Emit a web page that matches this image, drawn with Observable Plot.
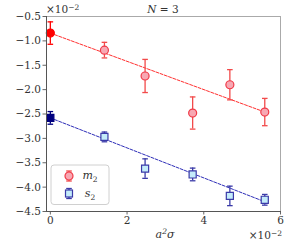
<!DOCTYPE html>
<html>
<head>
<meta charset="utf-8">
<script src="https://cdn.jsdelivr.net/npm/d3@7"></script>
<script src="https://cdn.jsdelivr.net/npm/@observablehq/plot@0.6"></script>
<style>
  body { margin: 0; background: #fff; }
  #chart { position: relative; width: 287px; height: 244px; }
  svg { font-family: "DejaVu Serif", "Liberation Serif", serif; }
</style>
</head>
<body>
<div id="chart"></div>
<script>
// Data (x in units of 10^-2, y in units of 10^-2)
const xs = [0, 1.41, 2.47, 3.71, 4.68, 5.59];
const m2 = [-0.84, -1.19, -1.72, -2.48, -1.90, -2.46];
const m2Err = [0.23, 0.16, 0.34, 0.33, 0.31, 0.28];
const s2 = [-2.58, -2.97, -3.62, -3.74, -4.18, -4.26];
const s2Err = [0.13, 0.10, 0.20, 0.13, 0.20, 0.11];
const fitX = [0, 5.59];
const fitM2 = [-0.84, -2.46];
const fitS2 = [-2.58, -4.30];
const xTicks = [0, 2, 4, 6];
const yTicks = [-0.5, -1.0, -1.5, -2.0, -2.5, -3.0, -3.5, -4.0, -4.5];

const m2Data = xs.map((x, i) => ({x, y: m2[i], e: m2Err[i], first: i === 0}));
const s2Data = xs.map((x, i) => ({x, y: s2[i], e: s2Err[i], first: i === 0}));
const fitM2Data = fitX.map((x, i) => ({x, y: fitM2[i]}));
const fitS2Data = fitX.map((x, i) => ({x, y: fitS2[i]}));

const capSymbol = {
  draw(ctx, size) {
    const w = Math.sqrt(size / Math.PI);
    ctx.moveTo(-w, 0);
    ctx.lineTo(w, 0);
  }
};

const RED = "#ff0000";
const RED_ERR = "#f24a4a";
const RED_FILL = "#f7a8b3";
const BLUE = "#00007f";
const BLUE_EDGE = "#3a3aa8";
const BLUE_FILL = "#c4ecfa";

const minus = (v) => (v < 0 ? "\u2212" : "") + Math.abs(v).toFixed(1);

function errMarks(data, color, firstColor) {
  return [
    Plot.ruleX(data, {x: "x", y1: d => d.y - d.e, y2: d => d.y + d.e, stroke: d => d.first ? firstColor : color, strokeWidth: 1.3}),
    Plot.dot(data, {x: "x", y: d => d.y - d.e, symbol: capSymbol, r: 2.8, stroke: d => d.first ? firstColor : color, strokeWidth: 1.3}),
    Plot.dot(data, {x: "x", y: d => d.y + d.e, symbol: capSymbol, r: 2.8, stroke: d => d.first ? firstColor : color, strokeWidth: 1.3})
  ];
}

const plot = Plot.plot({
  width: 287,
  height: 244,
  marginLeft: 46,
  marginRight: 7,
  marginTop: 16,
  marginBottom: 33,
  style: {fontFamily: "DejaVu Serif, serif", fontSize: "10.5px", background: "#fff"},
  x: {domain: [-0.1, 6], ticks: xTicks, tickFormat: d => String(d), tickSize: 3.5, label: null},
  y: {domain: [-4.5, -0.5], ticks: yTicks, tickFormat: minus, tickSize: 3.5, label: null},
  marks: [
    Plot.line(fitM2Data, {x: "x", y: "y", stroke: "#ff3030", strokeWidth: 1, strokeDasharray: "3,1.5"}),
    Plot.line(fitS2Data, {x: "x", y: "y", stroke: "#2e2eb8", strokeWidth: 1, strokeDasharray: "3,1.5"}),
    ...errMarks(m2Data, RED_ERR, RED),
    ...errMarks(s2Data, BLUE_EDGE, BLUE),
    Plot.dot(m2Data, {x: "x", y: "y", r: 4, fill: d => d.first ? RED : RED_FILL, stroke: d => d.first ? RED : "#f03a48", strokeWidth: 1.2}),
    Plot.dot(s2Data, {x: "x", y: "y", r: 4, symbol: "square", fill: d => d.first ? BLUE : BLUE_FILL, stroke: d => d.first ? BLUE : BLUE_EDGE, strokeWidth: 1.2}),
    Plot.axisX({ticks: xTicks, tickFormat: d => String(d), tickSize: 3.5, tickPadding: 2, stroke: "#666", fill: "#333"}),
    Plot.axisY({ticks: yTicks, tickFormat: minus, tickSize: 3.5, tickPadding: 2, stroke: "#666", fill: "#333"}),
    Plot.frame({anchor: "top", stroke: "#aaa"}),
    Plot.frame({anchor: "right", stroke: "#aaa"}),
    Plot.frame({anchor: "left", stroke: "#555"}),
    Plot.frame({anchor: "bottom", stroke: "#555"})
  ]
});

document.getElementById("chart").appendChild(plot);

const svg = d3.select(plot);
function sciLabel(x, y, anchor) {
  const t = svg.append("text").attr("x", x).attr("y", y).attr("text-anchor", anchor)
    .attr("font-family", "DejaVu Serif, serif").attr("font-size", 10.5).attr("fill", "#333");
  t.append("tspan").text("\u00d710");
  t.append("tspan").attr("dy", -3.5).attr("font-size", 7.5).text("\u22122");
}
sciLabel(46, 13, "start");
sciLabel(282, 239, "end");

// title
const title = svg.append("text").attr("x", 163).attr("y", 13).attr("text-anchor", "middle")
  .attr("font-family", "DejaVu Serif, serif").attr("font-size", 10.5).attr("fill", "#333");
title.append("tspan").attr("font-style", "italic").text("N");
title.append("tspan").text(" = 3");

// x label a²σ
const xl = svg.append("text").attr("x", 165).attr("y", 238).attr("text-anchor", "middle")
  .attr("font-family", "DejaVu Serif, serif").attr("font-size", 11).attr("fill", "#333").attr("font-style", "italic");
xl.append("tspan").text("a");
xl.append("tspan").attr("dy", -4.5).attr("font-size", 7.5).text("2");
xl.append("tspan").attr("dy", 4.5).text("\u03c3");

// legend
const lg = svg.append("g").attr("transform", "translate(51,165)");
lg.append("rect").attr("width", 58).attr("height", 39.5).attr("rx", 3).attr("fill", "#fff").attr("fill-opacity", 0.8).attr("stroke", "#d0d0d0");
// m2 entry
const e1 = lg.append("g").attr("transform", "translate(18,11)");
e1.append("line").attr("y1", -5).attr("y2", 5).attr("stroke", RED_ERR).attr("stroke-width", 1.3);
e1.append("line").attr("x1", -2.8).attr("x2", 2.8).attr("y1", -5).attr("y2", -5).attr("stroke", RED_ERR).attr("stroke-width", 1.3);
e1.append("line").attr("x1", -2.8).attr("x2", 2.8).attr("y1", 5).attr("y2", 5).attr("stroke", RED_ERR).attr("stroke-width", 1.3);
e1.append("circle").attr("r", 4).attr("fill", RED_FILL).attr("stroke", "#f03a48").attr("stroke-width", 1.2);
const t1 = lg.append("text").attr("x", 39).attr("y", 14).attr("font-family", "DejaVu Serif, serif").attr("font-size", 11).attr("fill", "#333").attr("font-style", "italic");
t1.append("tspan").text("m");
t1.append("tspan").attr("dy", 2.5).attr("font-size", 7.5).attr("font-style", "normal").text("2");
// s2 entry
const e2 = lg.append("g").attr("transform", "translate(18,28.5)");
e2.append("line").attr("y1", -5).attr("y2", 5).attr("stroke", BLUE_EDGE).attr("stroke-width", 1.3);
e2.append("line").attr("x1", -2.8).attr("x2", 2.8).attr("y1", -5).attr("y2", -5).attr("stroke", BLUE_EDGE).attr("stroke-width", 1.3);
e2.append("line").attr("x1", -2.8).attr("x2", 2.8).attr("y1", 5).attr("y2", 5).attr("stroke", BLUE_EDGE).attr("stroke-width", 1.3);
e2.append("rect").attr("x", -3.5).attr("y", -3.5).attr("width", 7).attr("height", 7).attr("fill", BLUE_FILL).attr("stroke", BLUE_EDGE).attr("stroke-width", 1.2);
const t2 = lg.append("text").attr("x", 39).attr("y", 32).attr("font-family", "DejaVu Serif, serif").attr("font-size", 11).attr("fill", "#333").attr("font-style", "italic");
t2.append("tspan").text("s");
t2.append("tspan").attr("dy", 2.5).attr("font-size", 7.5).attr("font-style", "normal").text("2");
</script>
</body>
</html>
